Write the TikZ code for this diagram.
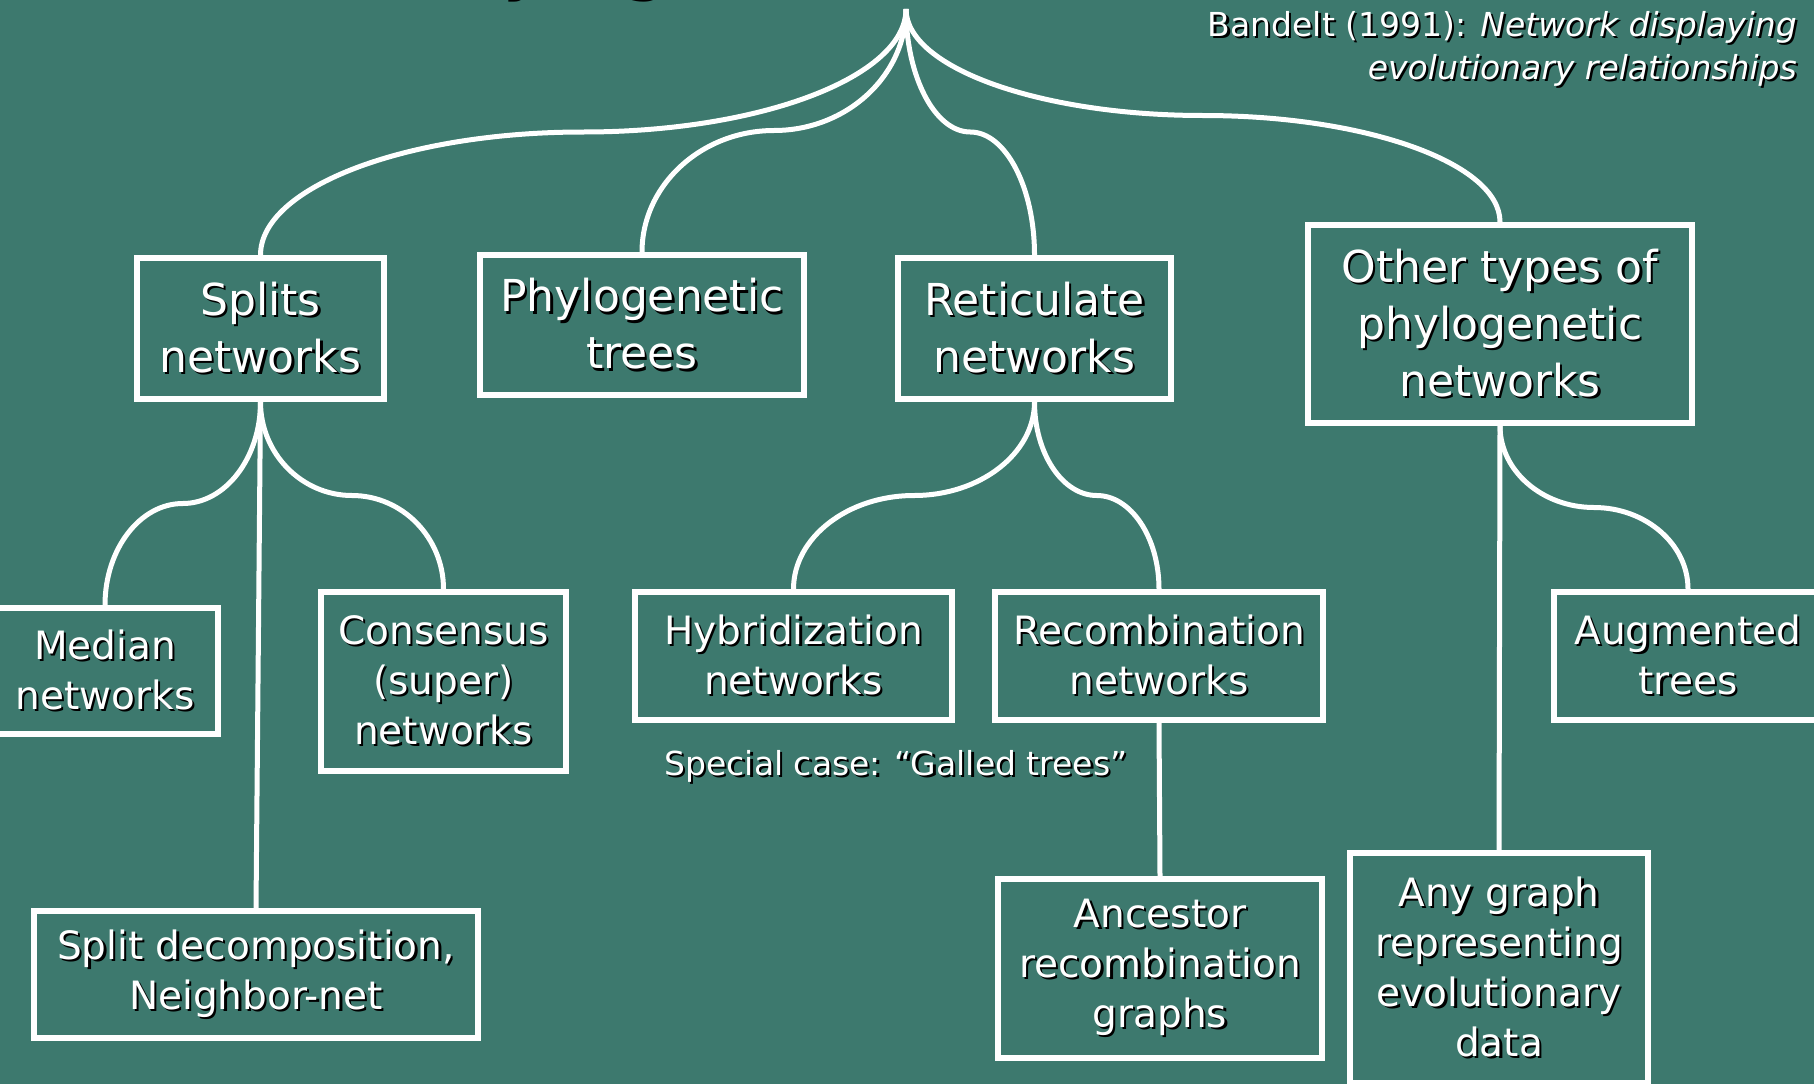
\documentclass[tikz,border=0pt]{standalone}
\usepackage{fontspec}
\setmainfont{DejaVu Sans}
\usetikzlibrary{calc}

\definecolor{slate}{RGB}{61,121,110}
\definecolor{gleam}{RGB}{255,255,204}

% text with a small black drop shadow
\newcommand\shd[1]{\makebox[0pt][l]{\textcolor{black}{\hspace{2.2pt}\raisebox{-2.2pt}{#1}}}#1}

% brace-like fork: vertical at both ends, horizontal half way
\newcommand\fork[2]{%
  \draw[link] let \p1=(#1), \p2=(#2), \p3=($(\p1)!0.5!(\p2)$) in
    (\p1) .. controls ($(\p1)!0.55!(\x1,\y3)$) and ($(\p3)!0.55!(\x1,\y3)$) .. (\p3)
          .. controls ($(\p3)!0.55!(\x2,\y3)$) and ($(\p2)!0.55!(\x2,\y3)$) .. (\p2);}

\tikzset{
  box/.style={draw=white, line width=6pt, text=white, align=center, inner sep=0pt},
  big/.style={font=\fontsize{44}{57}\selectfont},
  small/.style={font=\fontsize{39}{50}\selectfont},
  note/.style={text=white, font=\fontsize{33}{43}\selectfont, inner sep=0pt},
  link/.style={draw=white, line width=5pt},
}

\begin{document}
\begin{tikzpicture}[x=1pt,y=-1pt]
  \useasboundingbox (0,0) rectangle (1814,1084);
  \fill[slate] (0,0) rectangle (1814,1084);

  % heading, mostly above the page
  \node[text=gleam, font=\fontsize{80}{90}\selectfont, anchor=base west, inner sep=0pt]
    (heading) at (401,-17) {\shd{Phylogenetic networks}};

  \node[note, anchor=north east, align=right] (cite) at (1797,11)
    {\shd{Bandelt (1991): \textit{Network displaying}}\\\shd{\textit{evolutionary relationships}}};

  % first level
  \node[box,big,minimum width=247pt,minimum height=141pt] (splits) at (260.5,328.5)
    {\shd{Splits}\\\shd{networks}};
  \node[box,big,minimum width=324pt,minimum height=140pt] (trees) at (642,325)
    {\shd{Phylogenetic}\\\shd{trees}};
  \node[box,big,minimum width=273pt,minimum height=141pt] (retic) at (1034.5,328.5)
    {\shd{Reticulate}\\\shd{networks}};
  \node[box,big,minimum width=384pt,minimum height=198pt] (other) at (1500,324)
    {\shd{Other types of}\\\shd{phylogenetic}\\\shd{networks}};

  % second level
  \node[box,small,minimum width=226pt,minimum height=126pt] (median) at (105,671)
    {\shd{Median}\\\shd{networks}};
  \node[box,small,minimum width=245pt,minimum height=179pt] (consensus) at (443.5,681.5)
    {\shd{Consensus}\\\shd{(super)}\\\shd{networks}};
  \node[box,small,minimum width=444pt,minimum height=127pt] (splitdec) at (256,974.5)
    {\shd{Split decomposition,}\\\shd{Neighbor-net}};
  \node[box,small,minimum width=317pt,minimum height=128pt] (hybrid) at (793.5,656)
    {\shd{Hybridization}\\\shd{networks}};
  \node[box,small,minimum width=328pt,minimum height=128pt] (recomb) at (1159,656)
    {\shd{Recombination}\\\shd{networks}};
  \node[box,small,minimum width=324pt,minimum height=179pt] (arg) at (1160,968.5)
    {\shd{Ancestor}\\\shd{recombination}\\\shd{graphs}};
  \node[box,small,minimum width=268pt,minimum height=128pt] (augmented) at (1688,656)
    {\shd{Augmented}\\\shd{trees}};
  \node[box,small,minimum width=298pt,minimum height=230pt] (anygraph) at (1499,968)
    {\shd{Any graph}\\\shd{representing}\\\shd{evolutionary}\\\shd{data}};

  \node[note, anchor=base] (galled) at (896,775) {\shd{Special case: “Galled trees”}};

  % connectors
  \coordinate (root) at (906,9);
  \fork{root}{splits.north}
  \fork{root}{trees.north}
  \fork{root}{retic.north}
  \fork{root}{other.north}

  \fork{splits.south}{median.north}
  \fork{splits.south}{consensus.north}
  \draw[link] (splits.south) -- (splitdec.north);

  \fork{retic.south}{hybrid.north}
  \fork{retic.south}{recomb.north}
  \draw[link] (recomb.south) -- (arg.north);

  \fork{other.south}{augmented.north}
  \draw[link] (other.south) -- (anygraph.north);
\end{tikzpicture}
\end{document}
